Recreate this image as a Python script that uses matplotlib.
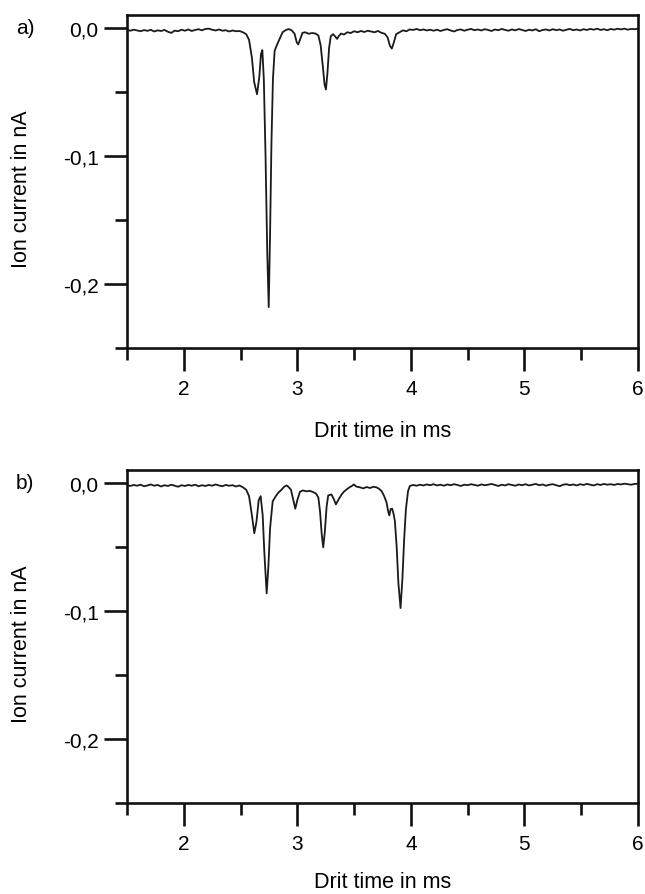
import matplotlib
matplotlib.use("Agg")
import matplotlib.pyplot as plt

plt.rcParams['font.family'] = ['Liberation Sans', 'DejaVu Sans']

# ---------------- data: (drift time ms, current nA) ----------------
trace_a = [
    (1.50, -0.0012), (1.53, -0.0018), (1.56, -0.0010), (1.59, -0.0016), (1.62, -0.0022),
    (1.65, -0.0013), (1.68, -0.0019), (1.71, -0.0011), (1.74, -0.0024), (1.77, -0.0015),
    (1.80, -0.0020), (1.83, -0.0012), (1.86, -0.0026), (1.89, -0.0035), (1.92, -0.0017),
    (1.95, -0.0022), (1.98, -0.0010), (2.01, -0.0018), (2.04, -0.0008), (2.07, -0.0020),
    (2.10, -0.0012), (2.13, -0.0006), (2.16, -0.0015), (2.19, -0.0004), (2.22, -0.0002),
    (2.25, -0.0010), (2.28, -0.0016), (2.31, -0.0008), (2.34, -0.0018), (2.37, -0.0014),
    (2.40, -0.0024), (2.43, -0.0016), (2.46, -0.0022), (2.49, -0.0020), (2.52, -0.0030),
    (2.55, -0.0045), (2.575, -0.0090), (2.60, -0.0230), (2.62, -0.0420), (2.645, -0.0515),
    (2.665, -0.0380), (2.68, -0.0200), (2.692, -0.0170), (2.705, -0.0400), (2.72, -0.1000),
    (2.735, -0.1750), (2.748, -0.2180), (2.760, -0.1600), (2.772, -0.0900), (2.785, -0.0400),
    (2.80, -0.0175), (2.82, -0.0130), (2.845, -0.0080), (2.87, -0.0030), (2.90, -0.0012),
    (2.925, -0.0005), (2.95, -0.0015), (2.975, -0.0040), (2.995, -0.0110), (3.008, -0.0125),
    (3.025, -0.0085), (3.045, -0.0035), (3.07, -0.0030), (3.10, -0.0042), (3.13, -0.0036),
    (3.16, -0.0040), (3.185, -0.0055), (3.205, -0.0130), (3.225, -0.0300), (3.24, -0.0440),
    (3.252, -0.0478), (3.265, -0.0350), (3.28, -0.0150), (3.295, -0.0060), (3.315, -0.0045),
    (3.335, -0.0065), (3.35, -0.0082), (3.365, -0.0060), (3.385, -0.0040), (3.41, -0.0048),
    (3.44, -0.0030), (3.47, -0.0036), (3.50, -0.0022), (3.53, -0.0030), (3.56, -0.0020),
    (3.59, -0.0028), (3.62, -0.0018), (3.65, -0.0024), (3.68, -0.0030), (3.71, -0.0020),
    (3.74, -0.0034), (3.77, -0.0042), (3.795, -0.0070), (3.815, -0.0135), (3.832, -0.0158),
    (3.85, -0.0110), (3.87, -0.0045), (3.90, -0.0030), (3.93, -0.0015), (3.96, -0.0022),
    (3.99, -0.0008), (4.02, -0.0012), (4.05, -0.0004), (4.08, -0.0014), (4.11, -0.0008),
    (4.14, -0.0016), (4.17, -0.0010), (4.20, -0.0018), (4.23, -0.0010), (4.26, -0.0020),
    (4.29, -0.0012), (4.32, -0.0006), (4.35, -0.0016), (4.38, -0.0024), (4.41, -0.0012),
    (4.44, -0.0008), (4.47, -0.0018), (4.50, -0.0010), (4.53, -0.0004), (4.56, -0.0014),
    (4.59, -0.0008), (4.62, -0.0016), (4.65, -0.0006), (4.68, -0.0012), (4.71, -0.0020),
    (4.74, -0.0008), (4.77, -0.0014), (4.80, -0.0004), (4.83, -0.0012), (4.86, -0.0018),
    (4.89, -0.0008), (4.92, -0.0015), (4.95, -0.0005), (4.98, -0.0012), (5.01, -0.0020),
    (5.04, -0.0010), (5.07, -0.0016), (5.10, -0.0006), (5.13, -0.0022), (5.16, -0.0012),
    (5.19, -0.0008), (5.22, -0.0016), (5.25, -0.0006), (5.28, -0.0014), (5.31, -0.0008),
    (5.34, -0.0018), (5.37, -0.0010), (5.40, -0.0004), (5.43, -0.0014), (5.46, -0.0008),
    (5.49, -0.0016), (5.52, -0.0006), (5.55, -0.0012), (5.58, -0.0004), (5.61, -0.0010),
    (5.64, -0.0002), (5.67, -0.0012), (5.70, -0.0006), (5.73, -0.0014), (5.76, -0.0004),
    (5.79, -0.0010), (5.82, -0.0002), (5.85, -0.0008), (5.88, -0.0002), (5.91, -0.0010),
    (5.94, -0.0004), (5.97, -0.0006), (6.00, -0.0002),
]

trace_b = [
    (1.50, -0.0014), (1.53, -0.0020), (1.56, -0.0012), (1.59, -0.0018), (1.62, -0.0010),
    (1.65, -0.0022), (1.68, -0.0016), (1.71, -0.0008), (1.74, -0.0018), (1.77, -0.0012),
    (1.80, -0.0024), (1.83, -0.0014), (1.86, -0.0020), (1.89, -0.0010), (1.92, -0.0018),
    (1.95, -0.0026), (1.98, -0.0014), (2.01, -0.0020), (2.04, -0.0012), (2.07, -0.0018),
    (2.10, -0.0010), (2.13, -0.0022), (2.16, -0.0014), (2.19, -0.0020), (2.22, -0.0012),
    (2.25, -0.0018), (2.28, -0.0008), (2.31, -0.0016), (2.34, -0.0022), (2.37, -0.0012),
    (2.40, -0.0018), (2.43, -0.0014), (2.46, -0.0024), (2.49, -0.0016), (2.52, -0.0030),
    (2.55, -0.0050), (2.575, -0.0100), (2.60, -0.0250), (2.621, -0.0390), (2.64, -0.0300),
    (2.66, -0.0130), (2.677, -0.0100), (2.695, -0.0250), (2.71, -0.0550), (2.73, -0.0860),
    (2.745, -0.0650), (2.76, -0.0350), (2.783, -0.0140), (2.81, -0.0100), (2.832, -0.0073),
    (2.86, -0.0050), (2.885, -0.0025), (2.906, -0.0016), (2.925, -0.0030), (2.944, -0.0050),
    (2.965, -0.0130), (2.982, -0.0198), (3.00, -0.0130), (3.023, -0.0065), (3.05, -0.0055),
    (3.08, -0.0062), (3.11, -0.0058), (3.14, -0.0068), (3.165, -0.0080), (3.185, -0.0110),
    (3.20, -0.0220), (3.215, -0.0400), (3.228, -0.0500), (3.242, -0.0380), (3.258, -0.0180),
    (3.272, -0.0094), (3.30, -0.0086), (3.32, -0.0120), (3.34, -0.0164), (3.36, -0.0130),
    (3.39, -0.0086), (3.41, -0.0065), (3.434, -0.0047), (3.46, -0.0030), (3.48, -0.0020),
    (3.498, -0.0008), (3.52, -0.0025), (3.55, -0.0030), (3.58, -0.0039), (3.61, -0.0028),
    (3.64, -0.0036), (3.67, -0.0026), (3.698, -0.0031), (3.72, -0.0042), (3.742, -0.0060),
    (3.765, -0.0100), (3.786, -0.0150), (3.80, -0.0220), (3.81, -0.0250), (3.822, -0.0200),
    (3.835, -0.0198), (3.848, -0.0240), (3.859, -0.0294), (3.875, -0.0500), (3.89, -0.0780),
    (3.909, -0.0975), (3.925, -0.0750), (3.94, -0.0450), (3.956, -0.0203), (3.975, -0.0060),
    (3.991, -0.0020), (4.02, -0.0012), (4.05, -0.0018), (4.08, -0.0010), (4.11, -0.0016),
    (4.14, -0.0008), (4.17, -0.0014), (4.20, -0.0006), (4.23, -0.0016), (4.26, -0.0010),
    (4.29, -0.0018), (4.32, -0.0008), (4.35, -0.0014), (4.38, -0.0006), (4.41, -0.0012),
    (4.44, -0.0020), (4.47, -0.0010), (4.50, -0.0014), (4.53, -0.0006), (4.56, -0.0012),
    (4.59, -0.0018), (4.62, -0.0008), (4.65, -0.0014), (4.68, -0.0010), (4.71, -0.0004),
    (4.74, -0.0012), (4.77, -0.0020), (4.80, -0.0010), (4.83, -0.0016), (4.86, -0.0006),
    (4.89, -0.0012), (4.92, -0.0018), (4.95, -0.0008), (4.98, -0.0014), (5.01, -0.0006),
    (5.04, -0.0016), (5.07, -0.0010), (5.10, -0.0004), (5.13, -0.0014), (5.16, -0.0008),
    (5.19, -0.0018), (5.22, -0.0010), (5.25, -0.0006), (5.28, -0.0014), (5.31, -0.0022),
    (5.34, -0.0010), (5.37, -0.0006), (5.40, -0.0014), (5.43, -0.0008), (5.46, -0.0016),
    (5.49, -0.0006), (5.52, -0.0012), (5.55, -0.0004), (5.58, -0.0010), (5.61, -0.0016),
    (5.64, -0.0006), (5.67, -0.0012), (5.70, -0.0004), (5.73, -0.0010), (5.76, -0.0006),
    (5.79, -0.0012), (5.82, -0.0004), (5.85, -0.0008), (5.88, -0.0002), (5.91, -0.0006),
    (5.94, -0.0010), (5.97, -0.0004), (6.00, -0.0002),
]

time_a = [p[0] for p in trace_a]
current_a = [p[1] for p in trace_a]
time_b = [p[0] for p in trace_b]
current_b = [p[1] for p in trace_b]

x_major = [2, 3, 4, 5, 6]
x_minor = [1.5, 2.5, 3.5, 4.5, 5.5]
x_labels = ['2', '3', '4', '5', '6']
y_major = [0.0, -0.1, -0.2]
y_minor = [-0.05, -0.15, -0.25]
y_labels = ['0,0', '-0,1', '-0,2']
panel_labels = ['a)', 'b)']
x_title = 'Drit time in ms'
y_title = 'Ion current in nA'

# ---------------- figure ----------------
W, H = 645, 895
fig = plt.figure(figsize=(W / 100, H / 100), dpi=100)

def px_box(left, top, right, bottom):
    return [left / W, 1 - bottom / H, (right - left) / W, (bottom - top) / H]

boxes = [px_box(127, 16, 638, 349), px_box(127, 471, 638, 804)]
series = [(time_a, current_a), (time_b, current_b)]
label_y = [28, 484]
xlabel_offset = [-0.215, -0.205]

for i, (box, (t, c)) in enumerate(zip(boxes, series)):
    ax = fig.add_axes(box)
    ax.plot(t, c, color='#1a1a1a', lw=1.3)
    ax.set_xlim(1.5, 6.0)
    ax.set_ylim(-0.25, 0.0105)
    ax.set_xticks(x_major)
    ax.set_xticklabels(x_labels)
    ax.set_xticks(x_minor, minor=True)
    ax.set_yticks(y_major)
    ax.set_yticklabels(y_labels)
    ax.set_yticks(y_minor, minor=True)
    for s in ax.spines.values():
        s.set_linewidth(1.9)
        s.set_color('#111111')
    ax.tick_params(which='major', direction='out', length=16.5, width=1.9,
                   labelsize=15, pad=4, color='#111111')
    ax.tick_params(which='minor', direction='out', length=8.5, width=1.9, color='#111111')
    ax.tick_params(axis='x', which='major', pad=6)
    ax.set_xlabel(x_title, fontsize=15.5)
    ax.set_ylabel(y_title, fontsize=15.5)
    ax.xaxis.set_label_coords(0.5, xlabel_offset[i])
    ax.yaxis.set_label_coords(-0.185, 0.48)
    fig.text(25 / W, 1 - label_y[i] / H, panel_labels[i], fontsize=15, ha='center', va='center')

fig.savefig('out.png', dpi=100)
